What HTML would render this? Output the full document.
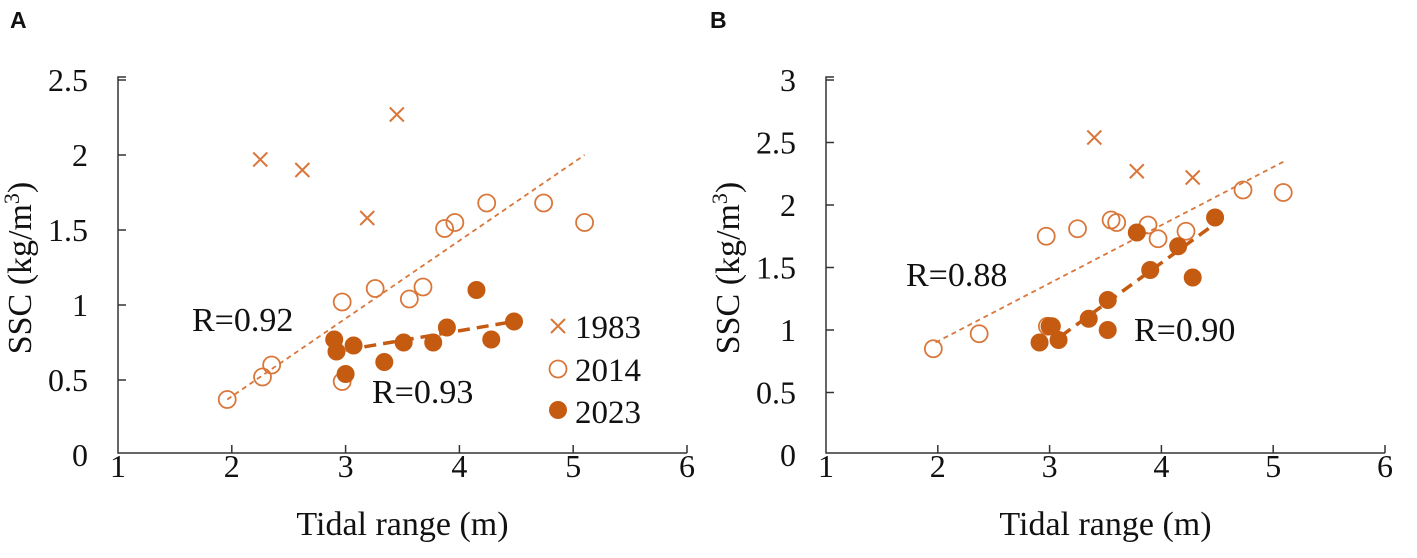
<!DOCTYPE html>
<html><head><meta charset="utf-8"><style>
body{margin:0;background:#fff;}
svg text{font-family:"Liberation Serif",serif;fill:#111;}
</style></head><body>
<svg id="chart" width="1417" height="553" xmlns="http://www.w3.org/2000/svg"></svg>
<script>
// Panel A data
const a1983X=[2.25,2.62,3.19,3.45], a1983Y=[1.97,1.90,1.58,2.27];
const a2014X=[1.96,2.27,2.35,2.97,2.97,3.26,3.56,3.68,3.87,3.96,4.24,4.74,5.10];
const a2014Y=[0.37,0.52,0.60,1.02,0.49,1.11,1.04,1.12,1.51,1.55,1.68,1.68,1.55];
const a2023X=[2.90,2.92,3.00,3.07,3.34,3.51,3.77,3.89,4.15,4.28,4.48];
const a2023Y=[0.77,0.69,0.54,0.73,0.62,0.75,0.75,0.85,1.10,0.77,0.89];
const aTrend2014=[[1.96,0.37],[5.10,2.00]];
const aTrend2023=[[3.00,0.70],[4.48,0.89]];
// Panel B data
const b1983X=[3.40,3.78,4.28], b1983Y=[2.54,2.27,2.22];
const b2014X=[1.96,2.37,2.97,2.98,3.25,3.55,3.60,3.88,3.97,4.22,4.73,5.09];
const b2014Y=[0.85,0.97,1.75,1.03,1.81,1.88,1.86,1.84,1.73,1.79,2.12,2.10];
const b2023X=[2.91,3.00,3.02,3.08,3.35,3.52,3.52,3.78,3.90,4.15,4.28,4.48];
const b2023Y=[0.90,1.03,1.03,0.92,1.09,1.24,1.00,1.78,1.48,1.67,1.42,1.90];
const bTrend2014=[[1.98,0.90],[5.10,2.35]];
const bTrend2023=[[3.10,0.95],[4.48,1.85]];
const xTicks=["1","2","3","4","5","6"];
const aYTicks=["0","0.5","1","1.5","2","2.5"];
const bYTicks=["0","0.5","1","1.5","2","2.5","3"];

const svg=document.getElementById('chart');
const NS='http://www.w3.org/2000/svg';
function mk(tag,attrs,parent){const e=document.createElementNS(NS,tag);for(const k in attrs)e.setAttribute(k,attrs[k]);(parent||svg).appendChild(e);return e;}
const C1='#d9773a', C2='#c55a11';

function panel(o){
  const g=mk('g',{});
  
  
  const sx=v=>o.x0+(v-1)*o.px;
  const sy=v=>455-v*o.py;
  const top=sy(o.ymax)-3, right=sx(6);
  const ax=mk('path',{d:`M${o.x0+8} ${top}H${o.x0}V453H${right}`,fill:'none',stroke:'#333','stroke-width':1.5},g);
  
  
  o.yt.forEach((t,i)=>{
    const y=sy(+t);
    if(i>0) mk('line',{x1:o.x0,x2:o.x0+8,y1:y,y2:y,stroke:'#333','stroke-width':1.5},g);
    const tx=mk('text',{x:o.x0-30,y:y+11,'text-anchor':'end','font-size':32},g);
    tx.textContent=t;
    
    
  });
  xTicks.forEach((t,i)=>{
    const x=sx(+t);
    if(i>0) mk('line',{x1:x,x2:x,y1:453,y2:445,stroke:'#333','stroke-width':1.5},g);
    const tx=mk('text',{x:x,y:477,'text-anchor':'middle','font-size':32},g);
    tx.textContent=t;
    
    
  });
  const xt=mk('text',{x:(o.x0+right)/2,y:535,'text-anchor':'middle','font-size':34},g);
  xt.textContent='Tidal range (m)';
  
  
  const yt=mk('text',{transform:`translate(${o.x0-87},268) rotate(-90)`,'text-anchor':'middle','font-size':34},g);
  yt.innerHTML='SSC (kg/m<tspan dy="-12" font-size="22">3</tspan><tspan dy="12">)</tspan>';
  
  
  const t1=mk('line',{x1:sx(o.t14[0][0]),y1:sy(o.t14[0][1]),x2:sx(o.t14[1][0]),y2:sy(o.t14[1][1]),stroke:C1,'stroke-width':1.8,'stroke-dasharray':'5 4'},g);
  
  
  const t2=mk('line',{x1:sx(o.t23[0][0]),y1:sy(o.t23[0][1]),x2:sx(o.t23[1][0]),y2:sy(o.t23[1][1]),stroke:C2,'stroke-width':3.5,'stroke-dasharray':'12 7'},g);
  
  
  o.x83.forEach((v,i)=>{
    const x=sx(v),y=sy(o.y83[i]);
    const p=mk('path',{d:`M${x-7} ${y-7}L${x+7} ${y+7}M${x+7} ${y-7}L${x-7} ${y+7}`,stroke:C1,'stroke-width':2},g);
    
    
  });
  o.x14.forEach((v,i)=>{
    const c=mk('circle',{cx:sx(v),cy:sy(o.y14[i]),r:8.5,fill:'none',stroke:C1,'stroke-width':1.8},g);
    
    
  });
  o.x23.forEach((v,i)=>{
    const c=mk('circle',{cx:sx(v),cy:sy(o.y23[i]),r:9,fill:C2},g);
    
    
  });
  o.labels.forEach(l=>{
    const tx=mk('text',{x:l[0],y:l[1],'font-size':34},g);
    tx.textContent=l[2];
    
    
  });
}
panel({name:'panel-a',x0:118,px:113.8,py:150,ymax:2.5,yt:aYTicks,x83:a1983X,y83:a1983Y,x14:a2014X,y14:a2014Y,x23:a2023X,y23:a2023Y,t14:aTrend2014,t23:aTrend2023,labels:[[192,331,'R=0.92'],[372,403,'R=0.93']]});
panel({name:'panel-b',x0:826,px:111.8,py:125,ymax:3,yt:bYTicks,x83:b1983X,y83:b1983Y,x14:b2014X,y14:b2014Y,x23:b2023X,y23:b2023Y,t14:bTrend2014,t23:bTrend2023,labels:[[906,286,'R=0.88'],[1134,341,'R=0.90']]});

// legend
const lg=mk('g',{});


const lx=558;
const lp=mk('path',{d:`M${lx-7} 319L${lx+7} 333M${lx+7} 319L${lx-7} 333`,stroke:C1,'stroke-width':2},lg);


const lc1=mk('circle',{cx:lx,cy:369,r:8.5,fill:'none',stroke:C1,'stroke-width':1.8},lg);


const lc2=mk('circle',{cx:lx,cy:410,r:9,fill:C2},lg);


[['1983',338],['2014',381],['2023',423]].forEach(r=>{
  const t=mk('text',{x:575,y:r[1],'font-size':33},lg);
  t.textContent=r[0];
  
  
});
// panel letters
[['A',10],['B',710]].forEach(p=>{
  const t=mk('text',{x:p[1],y:28,'font-size':23,'font-weight':'bold',style:'font-family:"Liberation Sans",sans-serif'});
  t.textContent=p[0];
  
  
});
</script>
</body></html>
